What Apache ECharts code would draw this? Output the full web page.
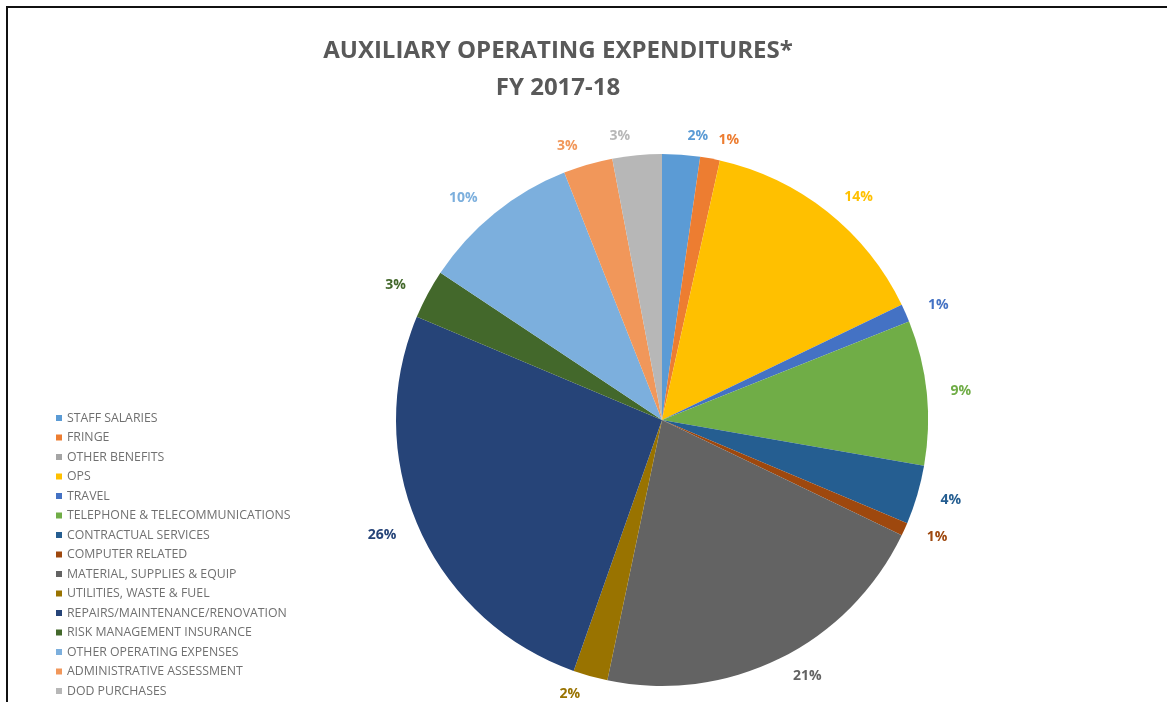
<!DOCTYPE html>
<html><head><meta charset="utf-8">
<script src="https://cdn.jsdelivr.net/npm/echarts@6/dist/echarts.min.js"></script>
<style>
html,body{margin:0;padding:0;background:#fff;}
#frame{position:absolute;left:6px;top:6px;width:1161px;height:696px;border-top:2px solid #111;border-left:2px solid #111;box-sizing:border-box;}
#chart{position:absolute;left:0;top:0;width:1167px;height:702px;}
</style></head>
<body>
<div id="chart"></div>
<div id="frame"></div>
<script>
const titleLines = ['AUXILIARY OPERATING EXPENDITURES*', 'FY 2017-18'];
const categories = ['STAFF SALARIES','FRINGE','OTHER BENEFITS','OPS','TRAVEL','TELEPHONE & TELECOMMUNICATIONS','CONTRACTUAL SERVICES','COMPUTER RELATED','MATERIAL, SUPPLIES & EQUIP','UTILITIES, WASTE & FUEL','REPAIRS/MAINTENANCE/RENOVATION','RISK MANAGEMENT INSURANCE','OTHER OPERATING EXPENSES','ADMINISTRATIVE ASSESSMENT','DOD PURCHASES'];
const values = [2.3, 1.2, 0, 14.4, 1.1, 8.8, 3.6, 0.8, 21.2, 2.1, 26.0, 3.0, 9.7, 3.0, 3.0];
const colors = ['#5B9BD5','#ED7D31','#A5A5A5','#FFC000','#4472C4','#70AD47','#255E91','#9E480E','#636363','#997300','#264478','#43682B','#7CAFDD','#F1975A','#B7B7B7'];

const chart = echarts.init(document.getElementById('chart'));
chart.setOption({
  animation: false,
  color: colors,
  title: {
    text: titleLines.join('\n'),
    left: 553, top: 28, textAlign: 'center',
    textStyle: {fontFamily: 'Open Sans', fontWeight: 'bold', fontSize: 24, color: '#595959', lineHeight: 37}
  },
  legend: {
    orient: 'vertical', left: 56, top: 412, padding: 0, height: 290,
    icon: 'rect', itemWidth: 6, itemHeight: 6, itemGap: 7.5,
    data: categories,
    textStyle: {fontFamily: 'Open Sans', fontSize: 12.3, color: '#707070', lineHeight: 12}
  },
  series: [{
    type: 'pie',
    center: [662, 420], radius: 266,
    startAngle: 90, clockwise: true,
    percentPrecision: 0,
    avoidLabelOverlap: false,
    label: {
      show: true, position: 'outside',
      formatter: p => p.value > 0 ? p.percent + '%' : '',
      color: 'inherit',
      fontFamily: 'Open Sans', fontWeight: 'bold', fontSize: 14
    },
    labelLine: {show: false, length: 19, length2: 0},
    itemStyle: {borderWidth: 0},
    emphasis: {disabled: true},
    data: categories.map((c, i) => ({name: c, value: values[i]}))
  }]
});
</script>
</body></html>
